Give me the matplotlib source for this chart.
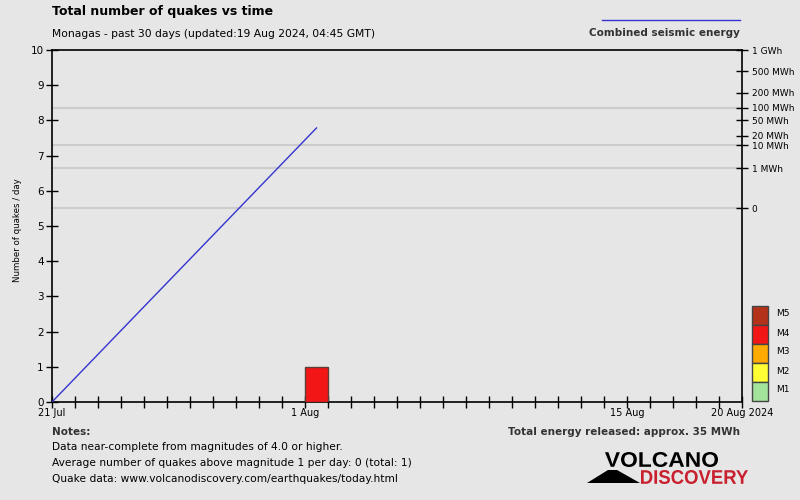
import numpy as np
import matplotlib
matplotlib.use("Agg")
import matplotlib.pyplot as plt
from matplotlib.patches import Rectangle, Polygon, PathPatch
from matplotlib.lines import Line2D
from matplotlib.textpath import TextPath
from matplotlib.font_manager import FontProperties
from matplotlib.transforms import Affine2D

# ---------------- data ----------------
title = "Total number of quakes vs time"
subtitle = "Monagas - past 30 days (updated:19 Aug 2024, 04:45 GMT)"
day_ticks = list(range(0, 31))
day_labels = {0: "21 Jul", 11: "1 Aug", 25: "15 Aug", 30: "20 Aug 2024"}
y_ticks = list(range(0, 11))

# quakes per day (day offset from 21 Jul, count, magnitude class)
quake_days = [11]
quake_counts = [1]
quake_mag = ["M4"]

# energy scale (right axis): label, energy in MWh, position on count axis
energy_labels = ["0", "1 MWh", "10 MWh", "20 MWh", "50 MWh", "100 MWh", "200 MWh", "500 MWh", "1 GWh"]
energy_values = [0, 1, 10, 20, 50, 100, 200, 500, 1000]
energy_pos = [5.50, 6.64, 7.29, 7.56, 8.01, 8.36, 8.78, 9.40, 10.0]
energy_grid = [0, 1, 10, 100]

# cumulative energy line (None = no energy yet -> axis floor)
energy_days = [0, 11.5]
energy_cum = [None, 35]

mag_classes = ["M5", "M4", "M3", "M2", "M1"]
mag_colors = {"M5": "#b5321a", "M4": "#f21616", "M3": "#ffaa00", "M2": "#ffff33", "M1": "#a3e39b"}

notes = ["Data near-complete from magnitudes of 4.0 or higher.",
         "Average number of quakes above magnitude 1 per day: 0 (total: 1)",
         "Quake data: www.volcanodiscovery.com/earthquakes/today.html"]
total_energy = "Total energy released: approx. 35 MWh"

# ---------------- figure ----------------
W, H = 800, 500
bg = "#e6e6e6"
fig = plt.figure(figsize=(8, 5), dpi=100, facecolor=bg)
plt.rcParams['font.family'] = ["DejaVu Sans"]

def fx(x):
    return x / W

def fy(y):
    return 1 - y / H

ax = fig.add_axes([fx(52), fy(402), fx(742) - fx(52), fy(50) - fy(402)])
ax.set_facecolor("none")
ax.set_xlim(0, 30)
ax.set_ylim(0, 10)

def e2pos(e):
    if e is None:
        return ax.get_ylim()[0]
    return float(np.interp(e, energy_values, energy_pos))

for g in energy_grid:
    ax.axhline(e2pos(g), color="#cccccc", lw=1.5, zorder=1)

for d, c, m in zip(quake_days, quake_counts, quake_mag):
    ax.bar(d, c, width=1, align="edge", color=mag_colors[m], edgecolor="#5a4038", lw=1, zorder=3)

ax.plot(energy_days, [e2pos(e) for e in energy_cum], color="#3434d0", lw=1, zorder=4)

for s in ["left", "bottom", "top", "right"]:
    ax.spines[s].set_color("black")
    ax.spines[s].set_linewidth(1.2)

ax.set_xticks(day_ticks)
ax.set_xticklabels([day_labels.get(d, "") for d in day_ticks], fontsize=7)
ax.set_yticks(y_ticks)
ax.set_yticklabels([str(v) for v in y_ticks], fontsize=7.5)
ax.tick_params(axis="both", direction="inout", length=8, width=1, color="black", pad=2)
ax.tick_params(axis="x", pad=0)
ax.set_ylabel("Number of quakes / day", fontsize=6.2)
ax.yaxis.set_label_coords(-(52 - 18) / 690, (402 - 230) / 352)
ax.yaxis.label.set_va("center")

ax2 = ax.twinx()
ax2.set_ylim(0, 10)
ax2.set_yticks(energy_pos)
ax2.set_yticklabels(energy_labels, fontsize=6.5)
ax2.tick_params(axis="y", direction="inout", length=8, width=1, color="black", pad=3)
for s in ["left", "bottom", "top", "right"]:
    ax2.spines[s].set_visible(False)

# titles
fig.text(fx(52), fy(12), title, fontsize=9, fontweight="bold", va="center", ha="left")
fig.text(fx(52), fy(34), subtitle, fontsize=7.75, va="center", ha="left")

# legend line
fig.add_artist(Line2D([fx(602), fx(740)], [fy(20), fy(20)], color="#3434d0", lw=1))
fig.text(fx(740), fy(33), "Combined seismic energy", fontsize=7.5, fontweight="bold",
         color="#333333", va="center", ha="right")

# magnitude legend
for i, m in enumerate(mag_classes):
    top = 306 + i * 19
    fig.add_artist(Rectangle((fx(752), fy(top + 19)), fx(16), 19 / H, facecolor=mag_colors[m],
                             edgecolor="#444444", lw=1))
    fig.text(fx(776), fy(top + 8), m, fontsize=6.5, va="center", ha="left")

# notes
fig.text(fx(52), fy(432), "Notes:", fontsize=7.5, fontweight="bold", color="#333333", va="center", ha="left")
for i, n in enumerate(notes):
    fig.text(fx(52), fy(447 + 16 * i), n, fontsize=7.7, va="center", ha="left")
fig.text(fx(740), fy(432), total_energy, fontsize=7.5, fontweight="bold", color="#333333",
         va="center", ha="right")

# logo (text paths fitted into pixel boxes)
def fitted_text(s, x0, x1, ytop, ybot, color):
    fp = FontProperties(family="Liberation Sans", weight="bold")
    tp = TextPath((0, 0), s, size=10, prop=fp)
    ext = tp.get_extents()
    sx = (x1 - x0) / ext.width
    sy = (ybot - ytop) / ext.height
    tr = (Affine2D().translate(-ext.x0, -ext.y0).scale(sx / W, sy / H)
          .translate(fx(x0), fy(ybot)))
    path = tr.transform_path(tp)
    fig.add_artist(PathPatch(path, facecolor=color, edgecolor="none", transform=fig.transFigure))

fig.add_artist(Polygon([(fx(587), fy(483)), (fx(608), fy(470)), (fx(617), fy(470)), (fx(640), fy(483))],
                       closed=True, facecolor="black", edgecolor="none"))
fitted_text("VOLCANO", 605, 718, 452, 467, "black")
fitted_text("DISCOVERY", 641, 748, 470, 484, "#c8202f")

fig.savefig("out.png", dpi=100, facecolor=bg)
